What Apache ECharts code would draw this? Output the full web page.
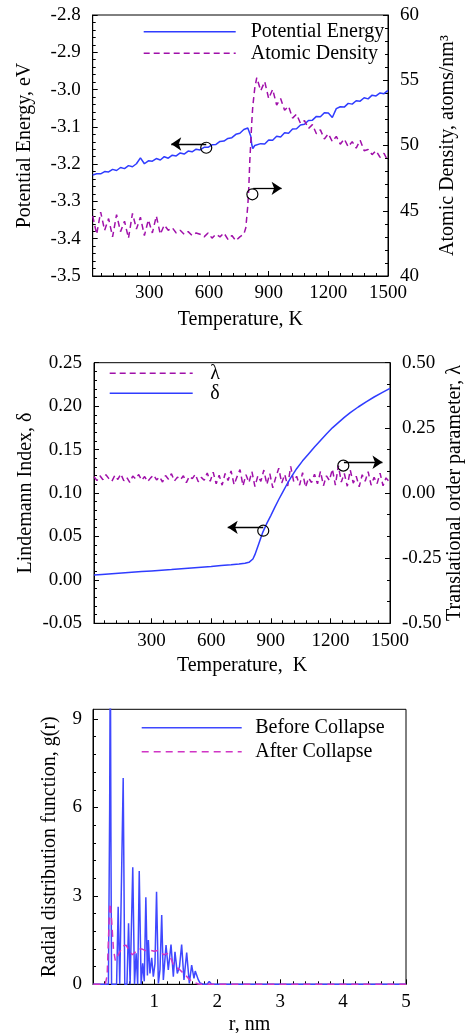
<!DOCTYPE html>
<html>
<head>
<meta charset="utf-8">
<script src="https://cdn.jsdelivr.net/npm/echarts@6/dist/echarts.min.js"></script>
<style>html,body{margin:0;padding:0;background:#fff}#c{width:470px;height:1033px}</style>
</head>
<body>
<div id="c"></div>
<script>
// ---------- Panel 1 data ----------
const temps1 = [15,35,55,75,95,115,135,155,175,195,215,235,255,275,295,315,335,355,375,395,415,435,455,475,495,515,535,555,575,595,615,635,655,675,695,715,735,755,775,
  785,795,800,805,810,815,820,830,840,
  860,880,900,920,940,960,980,1000,1020,1040,1060,1080,1100,1120,1140,1160,1180,1200,1220,1240,1260,1280,1300,1320,1340,1360,1380,1400,1420,1440,1460,1480,1500];
const energy = [-3.229,-3.226,-3.226,-3.220,-3.221,-3.214,-3.217,-3.209,-3.212,-3.204,-3.207,-3.199,-3.183,-3.199,-3.191,-3.192,-3.185,-3.189,-3.180,-3.184,-3.176,-3.178,-3.170,-3.173,-3.165,-3.167,-3.160,-3.162,-3.155,-3.155,-3.148,-3.147,-3.139,-3.138,-3.131,-3.129,-3.120,-3.117,-3.107,
  -3.105,-3.103,-3.101,-3.099,-3.125,-3.148,-3.158,-3.150,-3.153,
  -3.145,-3.146,-3.135,-3.136,-3.125,-3.127,-3.116,-3.117,-3.106,-3.105,-3.095,-3.093,-3.083,-3.082,-3.072,-3.073,-3.062,-3.063,-3.075,-3.051,-3.046,-3.047,-3.037,-3.039,-3.030,-3.031,-3.022,-3.025,-3.015,-3.017,-3.009,-3.011,-3.002];
const density = [44.6,43.2,44.9,43.5,44.4,43.0,44.7,43.4,44.2,42.9,44.8,43.6,44.5,43.1,44.3,43.3,44.6,43.2,43.9,43.5,43.7,43.3,43.5,43.2,43.4,43.1,43.3,43.2,43.0,43.3,42.9,43.2,43.0,43.3,42.8,43.1,42.7,43.0,43.2,
  43.7,45.4,46.8,48.8,50.3,51.8,53.0,54.4,55.2,
  54.2,54.9,53.6,54.3,53.1,53.6,52.7,53.0,52.1,52.4,51.7,51.9,51.3,51.6,50.9,51.2,50.5,50.9,50.3,50.7,50.1,50.5,49.9,50.3,49.8,50.4,49.6,49.7,49.3,49.6,49.1,49.4,48.8];
const tempTicks = [300,600,900,1200,1500];
const energyTicks = [-3.5,-3.4,-3.3,-3.2,-3.1,-3.0,-2.9,-2.8];
const densityTicks = [40,45,50,55,60];

// ---------- Panel 2 data ----------
const lindT = [10,50,100,150,200,250,300,350,400,450,500,550,600,650,700,740,770,790,800,810,820,840,860,880,900,920,940,960,980,1000,1030,1060,1090,1120,1150,1180,1210,1240,1270,1300,1340,1380,1420,1460,1500];
const lindVals = [0.0056,0.0063,0.0071,0.0079,0.0087,0.0095,0.0103,0.0111,0.0119,0.0128,0.0137,0.0146,0.0155,0.0165,0.0175,0.0184,0.0192,0.0202,0.0212,0.0240,0.0290,0.0420,0.0550,0.0650,0.0740,0.0835,0.0925,0.1010,0.1095,0.1175,0.1280,0.1370,0.1450,0.1530,0.1605,0.1680,0.1750,0.1810,0.1870,0.1925,0.1990,0.2050,0.2105,0.2155,0.2205];
const lambdaT = [10,25,40,55,70,85,100,115,130,145,160,175,190,205,220,235,250,265,280,295,310,325,340,355,370,385,400,415,430,445,460,475,490,505,520,535,550,565,580,595,
  610,625,640,655,670,685,700,715,730,745,760,775,790,805,820,835,850,865,880,895,910,925,940,955,970,985,1000,1015,1030,1045,1060,1075,1090,1105,1120,1135,1150,1165,1180,1195,1210,1225,1240,1255,1270,1285,1300,1315,1330,1345,1360,1375,1390,1405,1420,1435,1450,1465,1480,1500];
const lambdaVals = [0.062,0.048,0.066,0.051,0.070,0.055,0.045,0.068,0.052,0.073,
  0.047,0.060,0.041,0.065,0.054,0.071,0.049,0.063,0.044,0.058,
  0.069,0.050,0.062,0.042,0.067,0.053,0.074,0.046,0.061,0.051,
  0.066,0.040,0.064,0.055,0.072,0.043,0.060,0.049,0.077,0.045,
  0.080,0.035,0.068,0.030,0.075,0.048,0.085,0.032,0.062,0.090,
  0.028,0.070,0.040,0.082,0.025,0.066,0.045,0.088,0.033,0.074,
  0.020,0.060,0.095,0.038,0.071,0.027,0.102,0.045,0.064,0.030,
  0.078,0.022,0.058,0.040,0.072,0.035,0.083,0.028,0.066,0.048,
  0.092,0.030,0.105,0.042,0.075,0.026,0.088,0.038,0.064,0.024,
  0.070,0.045,0.082,0.030,0.060,0.036,0.076,0.028,0.058,0.040];
const lindTicks = [-0.05,0,0.05,0.10,0.15,0.20,0.25];
const lambdaTicks = [-0.5,-0.25,0,0.25,0.5];

// ---------- Panel 3 data ----------
const rBefore = [0.03,0.27,0.29,0.30,0.31,0.32,0.40,0.425,0.45,0.48,0.505,0.53,0.565,0.59,0.615,0.635,0.657,0.685,0.71,0.735,0.76,0.79,0.815,0.84,0.865,0.89,0.905,0.93,0.958,0.984,1.01,1.035,1.064,1.09,1.117,1.143,1.186,1.222,1.265,1.302,1.328,1.365,1.40,1.434,1.471,1.514,1.556,1.593,1.63,1.65,1.672,1.70,1.725,1.778,1.84,1.873,1.91,5];
const gBefore = [0,0,6,12,5,0,0,2.63,0,0,7.0,0,0,2.07,0,0,3.97,0,1.05,0,3.84,0,0.71,0.1,2.95,0.3,1.5,0.37,0.9,0.26,0.7,3.14,0.03,0.5,2.35,0.15,1.33,0.49,1.35,0.26,1.1,0.37,0.6,1.35,0.15,1.08,0.03,0.65,0.2,0.45,0.45,0.15,0.05,0,0,0.1,0,0];
const rAfter = [0.03,0.22,0.25,0.27,0.29,0.30,0.32,0.35,0.38,0.41,0.45,0.50,0.55,0.60,0.65,0.70,0.75,0.80,0.85,0.90,0.95,1.00,1.05,1.10,1.15,1.20,1.25,1.30,1.35,1.40,1.45,1.50,1.55,1.60,1.65,1.70,1.75,5];
const gAfter = [0,0,0.3,1.5,2.6,2.75,2.2,1.2,0.8,0.85,1.1,1.3,1.33,1.15,1.0,1.1,1.2,1.2,1.15,1.15,1.15,1.12,1.15,1.1,1.0,1.05,0.95,0.68,0.58,0.5,0.4,0.3,0.18,0.1,0.05,0.01,0,0];
const rTicks = [1,2,3,4,5];
const gTicks = [0,3,6,9];

// ---------- styling helpers ----------
const FONT = '"Liberation Serif","Times New Roman",serif';
const BLUE = '#2f3cff';
const MAG = '#a010aa';
const BLUE3 = '#3f48ff';
const MAG3 = '#d035c5';
const zip = (a, b) => a.map((v, i) => [v, b[i]]);
function steps(min, max, step, majors) {
  const out = [];
  const n = Math.round((max - min) / step);
  for (let i = 0; i <= n; i++) {
    const v = +(min + i * step).toFixed(6);
    if (!majors.some(m => Math.abs(m - v) < step / 10)) out.push(v);
  }
  return out;
}
function axisPair(grid, pos, min, max, majors, minors, fmt, name, nameGap, margin) {
  const major = {
    type: 'value', gridIndex: grid, position: pos, min: min, max: max,
    axisLine: { show: true, onZero: false, lineStyle: { color: '#000', width: 1 } },
    axisTick: { show: true, inside: true, length: 5, customValues: majors, lineStyle: { color: '#000', width: 1 } },
    axisLabel: { show: true, customValues: majors, formatter: fmt, margin: margin, fontFamily: FONT, fontSize: 19, color: '#000' },
    splitLine: { show: false }, minorTick: { show: false },
    name: name, nameLocation: 'middle', nameGap: nameGap, nameMoveOverlap: false,
    nameTextStyle: { fontFamily: FONT, fontSize: 20, color: '#000' }
  };
  const minor = {
    type: 'value', gridIndex: grid, position: pos, min: min, max: max,
    axisLine: { show: false, onZero: false },
    axisTick: { show: true, inside: true, length: 3, customValues: minors, lineStyle: { color: '#000', width: 1 } },
    axisLabel: { show: false }, splitLine: { show: false }
  };
  return [major, minor];
}
const f1 = v => v.toFixed(1);
const f2 = v => v.toFixed(2);
const f0 = v => String(Math.round(v));

const xAxes = [].concat(
  axisPair(0, 'bottom', 15, 1500, tempTicks, steps(0, 1500, 60, tempTicks).filter(v => v > 15), f0, 'Temperature, K', 34, 8),
  axisPair(1, 'bottom', 10, 1500, tempTicks, steps(0, 1500, 60, tempTicks).filter(v => v > 10), f0, 'Temperature,  K', 32, 8),
  axisPair(2, 'bottom', 0.025, 5, rTicks, steps(0, 5, 0.2, rTicks).filter(v => v > 0.025), f0, 'r, nm', 30, 8)
);
const yAxes = [].concat(
  axisPair(0, 'left', -3.5, -2.8, energyTicks, steps(-3.5, -2.8, 0.02, energyTicks), f1, 'Potential Energy, eV', 58, 12),
  axisPair(0, 'right', 40, 60, densityTicks, steps(40, 60, 1, densityTicks), f0, 'Atomic Density, atoms/nm\u00B3', 50, 12),
  axisPair(1, 'left', -0.05, 0.25, lindTicks, steps(-0.05, 0.25, 0.01, lindTicks), f2, 'Lindemann Index, \u03B4', 58, 12),
  axisPair(1, 'right', -0.5, 0.5, lambdaTicks, steps(-0.5, 0.5, 0.25 / 3, lambdaTicks), f2, 'Translational order parameter, \u03BB', 55, 12),
  axisPair(2, 'left', 0, 9.33, gTicks, steps(0, 9.33, 0.6, gTicks), f0, 'Radial distribution function, g(r)', 33, 11)
);

const circleMark = coord => ({
  silent: true, symbol: 'circle', symbolSize: 11,
  itemStyle: { color: 'rgba(0,0,0,0)', borderColor: '#000', borderWidth: 1.2 },
  label: { show: false }, data: [{ coord: coord }]
});
const arrowMark = (from, to) => ({
  silent: true, symbol: ['none', 'arrow'], symbolSize: 10,
  lineStyle: { color: '#000', width: 1.3, type: 'solid' },
  label: { show: false }, emphasis: { disabled: true },
  data: [[{ coord: from }, { coord: to }]]
});

const legendBase = (name, left, top, width, gap) => ({
  data: [name], left: left, top: top, orient: 'vertical', selectedMode: false,
  itemWidth: width, itemHeight: 20, padding: 0, itemGap: 0,
  itemStyle: { opacity: 0, borderWidth: 0 },
  lineStyle: { width: 1.4, opacity: 1 },
  textStyle: { fontFamily: FONT, fontSize: 20, color: '#000', lineHeight: 20, padding: [0, 0, 0, gap] }
});

const option = {
  animation: false,
  backgroundColor: '#fff',
  grid: [
    { left: 92.7, top: 15, width: 295.3, height: 261, show: true, borderColor: '#000', borderWidth: 1, backgroundColor: 'transparent', containLabel: false, outerBoundsMode: 'none' },
    { left: 94, top: 362.7, width: 296, height: 260.6, show: true, borderColor: '#000', borderWidth: 1, backgroundColor: 'transparent', containLabel: false, outerBoundsMode: 'none' },
    { left: 93, top: 709.3, width: 313, height: 275, show: true, borderColor: '#000', borderWidth: 1, backgroundColor: 'transparent', containLabel: false, outerBoundsMode: 'none' }
  ],
  xAxis: xAxes,
  yAxis: yAxes,
  legend: [
    legendBase('Potential Energy', 143, 21.7, 92, 10),
    legendBase('Atomic Density', 143, 43.3, 92, 10),
    legendBase('\u03BB', 109, 363.3, 83, 12.5),
    legendBase('\u03B4', 109, 383.3, 83, 12.5),
    legendBase('Before Collapse', 141, 717.7, 100, 8.5),
    legendBase('After Collapse', 141, 741.7, 100, 8.5)
  ],
  series: [
    { name: 'Potential Energy', type: 'line', xAxisIndex: 0, yAxisIndex: 0, data: zip(temps1, energy), symbol: 'none',
      lineStyle: { color: BLUE, width: 1.5 }, itemStyle: { color: BLUE },
      markPoint: circleMark([586, -3.156]), markLine: arrowMark([586, -3.146], [410, -3.146]) },
    { name: 'Atomic Density', type: 'line', xAxisIndex: 0, yAxisIndex: 2, data: zip(temps1, density), symbol: 'none',
      lineStyle: { color: MAG, width: 1.5, type: [6, 4] }, itemStyle: { color: MAG },
      markPoint: circleMark([818, 46.26]), markLine: arrowMark([822, 46.72], [965, 46.72]) },
    { name: '\u03BB', type: 'line', xAxisIndex: 2, yAxisIndex: 6, data: zip(lambdaT, lambdaVals), symbol: 'none',
      lineStyle: { color: MAG, width: 1.5, type: [6, 4] }, itemStyle: { color: MAG },
      markPoint: circleMark([1265, 0.105]), markLine: arrowMark([1268, 0.118], [1462, 0.118]) },
    { name: '\u03B4', type: 'line', xAxisIndex: 2, yAxisIndex: 4, data: zip(lindT, lindVals), symbol: 'none',
      lineStyle: { color: BLUE, width: 1.5 }, itemStyle: { color: BLUE },
      markPoint: circleMark([862, 0.0566]), markLine: arrowMark([862, 0.0605], [683, 0.0605]) },
    { name: 'Before Collapse', type: 'line', xAxisIndex: 4, yAxisIndex: 8, data: zip(rBefore, gBefore), symbol: 'none',
      lineStyle: { color: BLUE3, width: 1.5 }, itemStyle: { color: BLUE3 } },
    { name: 'After Collapse', type: 'line', xAxisIndex: 4, yAxisIndex: 8, data: zip(rAfter, gAfter), symbol: 'none',
      lineStyle: { color: MAG3, width: 1.5, type: [7, 5] }, itemStyle: { color: MAG3 } }
  ]
};
const chart = echarts.init(document.getElementById('c'), null, { renderer: 'canvas', width: 470, height: 1033 });
chart.setOption(option);
</script>
</body>
</html>
